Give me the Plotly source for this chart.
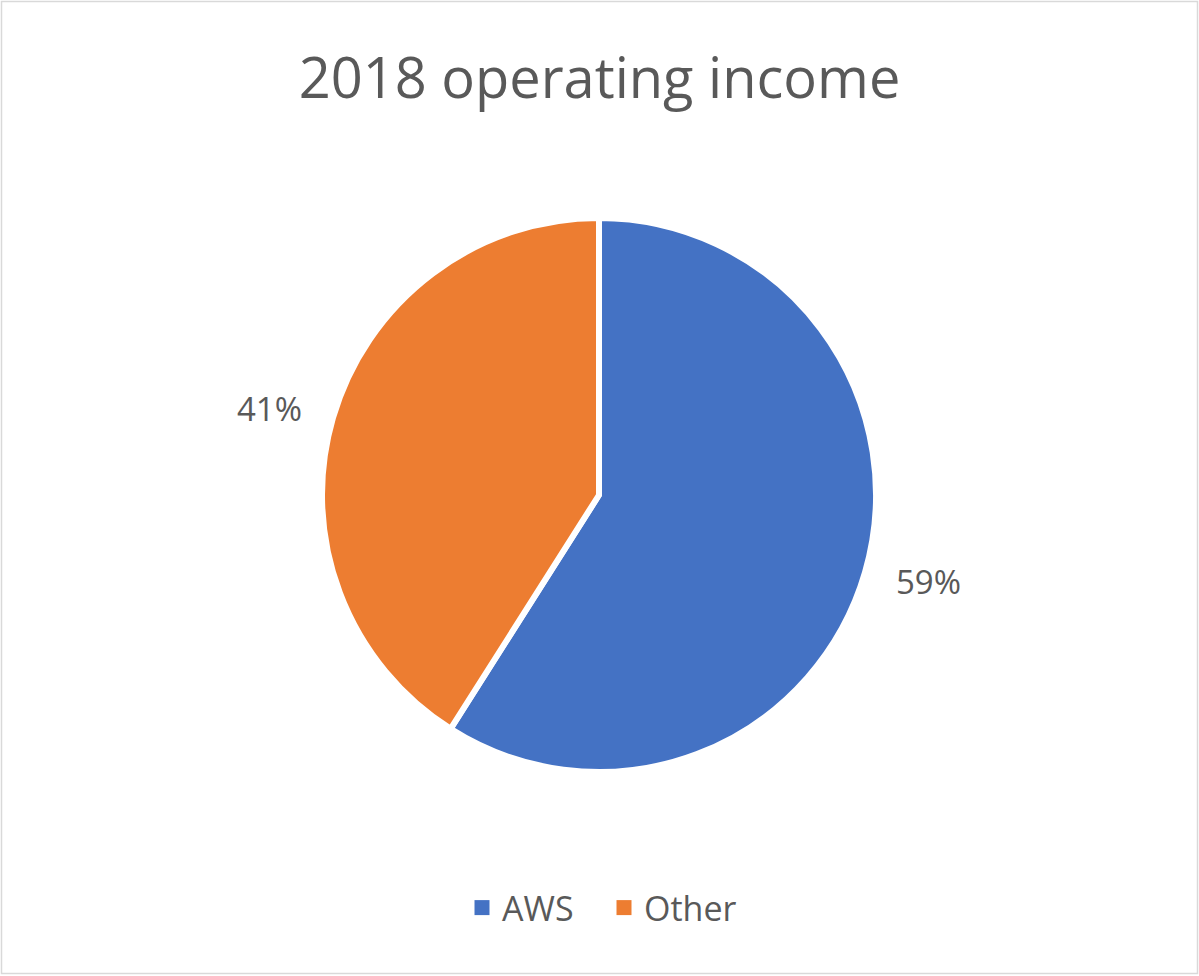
import math
import plotly.graph_objects as go

categories = ["AWS", "Other"]
values = [59, 41]
colors = ["#4472C4", "#ED7D31"]
title_text = "2018 operating income"

W, H = 1199, 976
FONT = "Open Sans"
GREY = "#595959"

# pie placement (pixels)
CX, CY, R = 599, 495, 277
LABEL_RX, LABEL_RY = 1.24, 1.12  # label distance as fraction of radius

dom_x = [(CX - R) / W, (CX + R) / W]
dom_y = [(H - CY - R) / H, (H - CY + R) / H]

fig = go.Figure()
fig.add_trace(go.Pie(
    labels=categories,
    values=values,
    sort=False,
    direction="clockwise",
    rotation=0,
    marker=dict(colors=colors, line=dict(color="white", width=6)),
    textinfo="none",
    showlegend=False,
    domain=dict(x=dom_x, y=dom_y),
    hoverinfo="label+percent",
))

# legend entries with square swatches
for cat, col in zip(categories, colors):
    fig.add_trace(go.Scatter(x=[None], y=[None], mode="markers", name=cat,
                             marker=dict(symbol="square", size=15, color=col),
                             showlegend=True, hoverinfo="skip"))

# percentage labels placed along each slice's bisector
total = sum(values)
annotations = []
cum = 0.0
for v in values:
    frac = v / total
    mid = (cum + frac / 2) * 2 * math.pi
    cum += frac
    px = CX + LABEL_RX * R * math.sin(mid)
    py = CY - LABEL_RY * R * math.cos(mid)
    annotations.append(dict(
        text=f"{round(frac * 100)}%", x=px / W, y=1 - py / H, xref="paper", yref="paper",
        showarrow=False, xanchor="center", yanchor="middle",
        font=dict(family=FONT, size=33, color=GREY)))

fig.update_layout(
    width=W, height=H,
    margin=dict(l=0, r=0, t=0, b=0),
    paper_bgcolor="white",
    plot_bgcolor="white",
    xaxis=dict(visible=False),
    yaxis=dict(visible=False),
    title=dict(text=title_text, x=0.5, xanchor="center", y=1 - 78 / H, yanchor="middle",
               font=dict(family=FONT, size=56, color=GREY)),
    legend=dict(orientation="h", x=462 / W, xanchor="left", y=1 - 908 / H, yanchor="middle",
                font=dict(family=FONT, size=34, color=GREY), traceorder="normal",
                itemwidth=30, entrywidth=97, entrywidthmode="pixels"),
    annotations=annotations,
    shapes=[dict(type="rect", xref="paper", yref="paper", x0=1.5 / W, x1=1 - 1.5 / W,
                 y0=2.5 / H, y1=1 - 1.5 / H, line=dict(color="#D9D9D9", width=1.5))],
)

fig.write_html("out.html", config={"displayModeBar": False},
               post_script="document.body.style.margin='0';document.body.style.overflow='hidden';")
